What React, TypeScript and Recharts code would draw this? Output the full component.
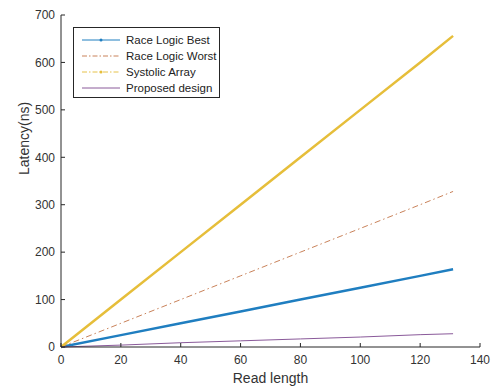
import { LineChart, Line, XAxis, YAxis } from 'recharts'

// read length samples along each line
const readLength = [0, 20, 40, 60, 80, 100, 120, 131]
const raceLogicBest = [0, 25, 50, 75, 100, 125, 150, 164]
const raceLogicWorst = [0, 50, 100, 150, 200, 250, 300, 328]
const systolicArray = [0, 100, 200, 300, 400, 500, 600, 656]
const proposedDesign = [0, 4, 9, 13, 17, 21, 26, 28]

const xTicks = [0, 20, 40, 60, 80, 100, 120, 140]
const yTicks = [0, 100, 200, 300, 400, 500, 600, 700]

const data = readLength.map((x, i) => ({
  x,
  best: raceLogicBest[i],
  worst: raceLogicWorst[i],
  systolic: systolicArray[i],
  proposed: proposedDesign[i],
}))

const FONT = 'Liberation Sans, Arial, Helvetica, sans-serif'
const AXIS = '#262626'

const series = [
  { key: 'best', name: 'Race Logic Best', color: '#1f7ec0', width: 2.5, dash: undefined, marker: true },
  { key: 'worst', name: 'Race Logic Worst', color: '#c9825a', width: 1, dash: '6 3 1.5 3', marker: false },
  { key: 'systolic', name: 'Systolic Array', color: '#e6be3a', width: 2.5, dash: undefined, marker: true },
  { key: 'proposed', name: 'Proposed design', color: '#8a5a9a', width: 1, dash: undefined, marker: false },
]

const LegendBox = () => (
  <div
    style={{
      position: 'absolute',
      left: 73,
      top: 27,
      border: `1px solid ${AXIS}`,
      background: '#fff',
      width: 147,
      height: 71,
      boxSizing: 'border-box',
      padding: '4px 0 0 0',
      fontFamily: FONT,
      fontSize: 11.5,
      color: '#222',
    }}
  >
    {series.map((s) => (
      <div key={s.key} style={{ display: 'flex', alignItems: 'center', height: 16 }}>
        <svg width={50} height={10} style={{ marginLeft: 6 }}>
          <line
            x1={2}
            x2={40}
            y1={5}
            y2={5}
            stroke={s.key === 'systolic' ? '#e6c24a' : s.color}
            strokeWidth={1}
            strokeDasharray={s.key === 'worst' || s.key === 'systolic' ? '5 2 1.5 2' : undefined}
          />
          {s.marker && <circle cx={21} cy={5} r={1.5} fill={s.color} />}
        </svg>
        <span style={{ marginLeft: -4 }}>{s.name}</span>
      </div>
    ))}
  </div>
)

export default function App() {
  return (
    <div style={{ position: 'absolute', left: 0, top: 0, width: 497, height: 387, background: '#fff' }}>
      <LineChart width={497} height={387} data={data} margin={{ top: 15, right: 17, left: 0, bottom: 0 }}>
        <XAxis
          dataKey="x"
          type="number"
          domain={[0, 140]}
          ticks={xTicks}
          height={40}
          tickSize={-4}
          tickMargin={12}
          stroke={AXIS}
          tick={{ fill: '#333', fontSize: 12, fontFamily: FONT }}
          label={{ value: 'Read length', position: 'insideBottom', offset: 4, fill: '#333', fontSize: 14, fontFamily: FONT }}
        />
        <XAxis
          xAxisId="top"
          orientation="top"
          dataKey="x"
          type="number"
          domain={[0, 140]}
          ticks={xTicks}
          height={0}
          tickSize={-4}
          stroke={AXIS}
          tick={false}
        />
        <YAxis
          type="number"
          domain={[0, 700]}
          ticks={yTicks}
          width={61}
          tickSize={-4}
          tickMargin={10}
          stroke={AXIS}
          tick={{ fill: '#333', fontSize: 12, fontFamily: FONT }}
          label={{ value: 'Latency(ns)', angle: -90, position: 'insideLeft', offset: 24, dy: -6, fill: '#333', fontSize: 14, fontFamily: FONT }}
        />
        <YAxis
          yAxisId="right"
          orientation="right"
          type="number"
          domain={[0, 700]}
          ticks={yTicks}
          width={0}
          tickSize={-4}
          stroke={AXIS}
          tick={false}
        />
        {/* invisible series so the top/right frame axes get drawn */}
        <Line
          xAxisId="top"
          yAxisId="right"
          dataKey="best"
          stroke="none"
          dot={false}
          activeDot={false}
          legendType="none"
          isAnimationActive={false}
        />
        {series.map((s) => (
          <Line
            key={s.key}
            dataKey={s.key}
            name={s.name}
            type="linear"
            stroke={s.color}
            strokeWidth={s.width}
            strokeDasharray={s.dash}
            dot={false}
            activeDot={false}
            isAnimationActive={false}
          />
        ))}
      </LineChart>
      <LegendBox />
    </div>
  )
}
